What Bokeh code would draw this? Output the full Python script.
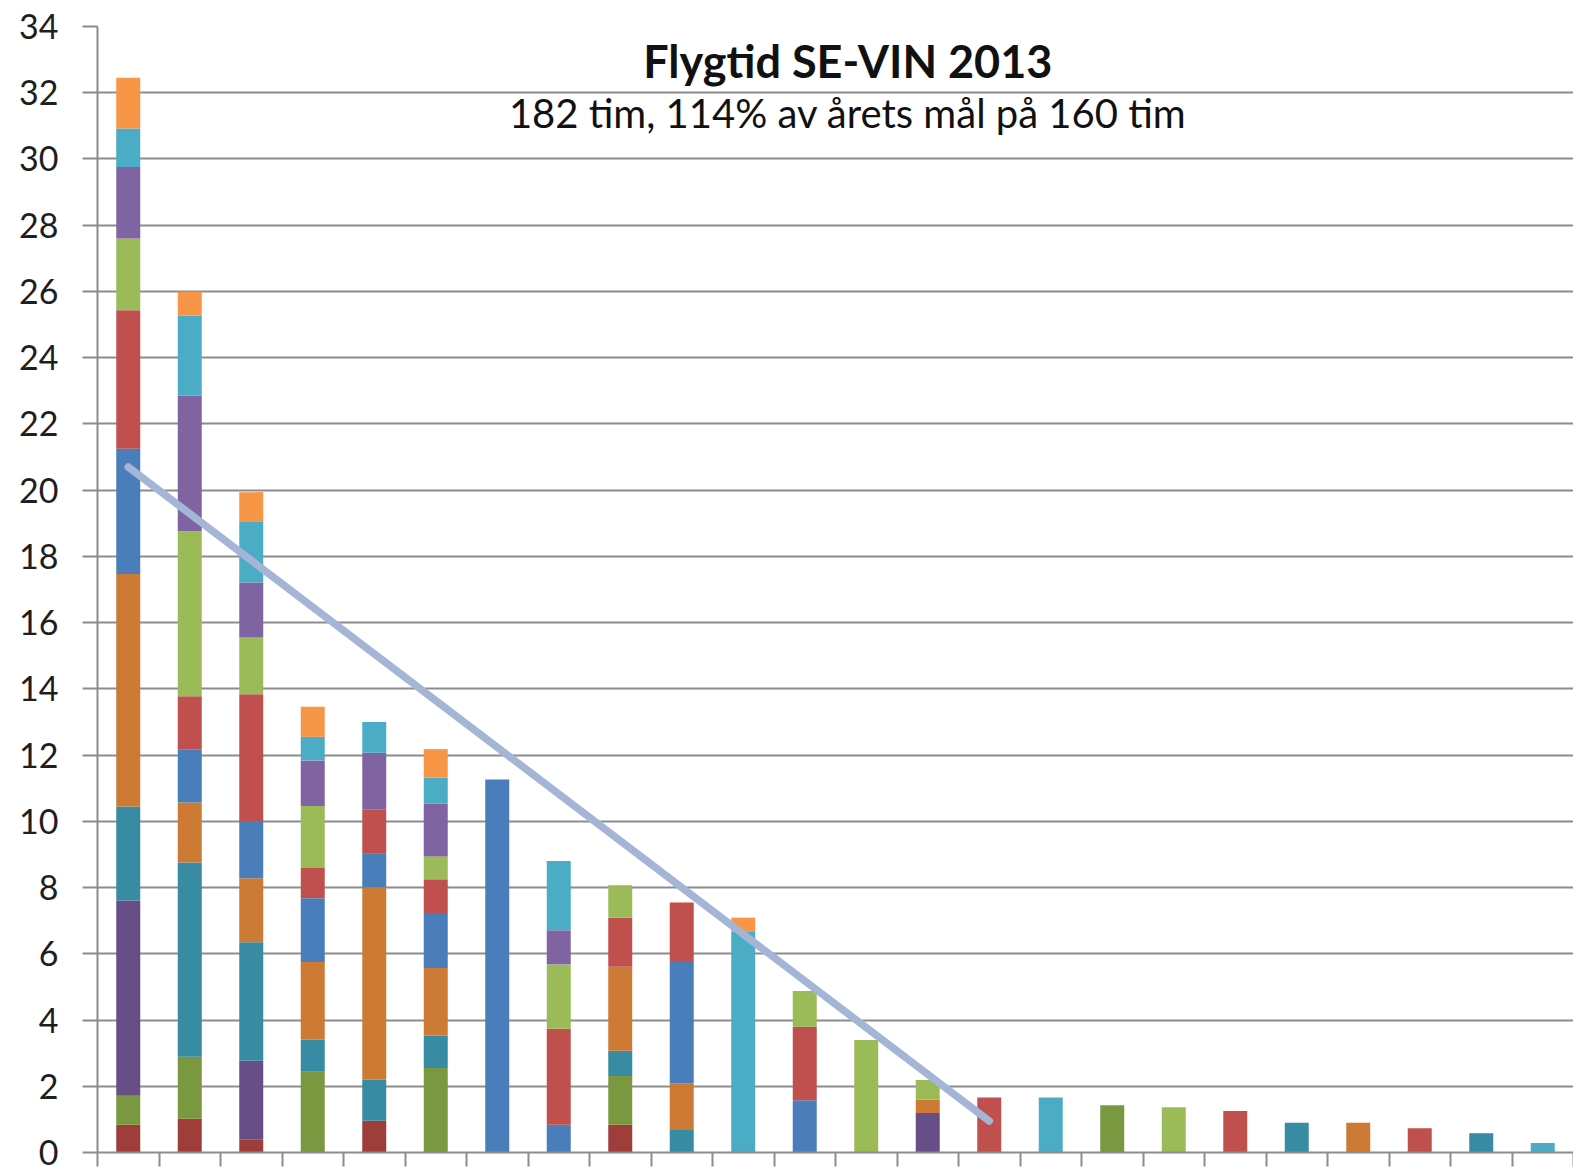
from bokeh.plotting import figure
from bokeh.models import Range1d, FixedTicker, Label, ColumnDataSource
from bokeh.embed import file_html
from bokeh.resources import INLINE

title_text = "Flygtid SE-VIN 2013"
subtitle_text = "182 tim, 114% av årets mål på 160 tim"
y_ticks = list(range(0, 36, 2))
n_bars = 24

# stacked series (hours per bar), bottom to top
s_darkred    = [0.84, 1.02, 0.40, 0, 0.96, 0, 0, 0, 0.84, 0, 0, 0, 0, 0, 0, 0, 0, 0, 0, 0, 0, 0, 0, 0]
s_olive      = [0.87, 1.87, 0, 2.44, 0, 2.55, 0, 0, 1.47, 0, 0, 0, 0, 0, 0, 0, 1.43, 0, 0, 0, 0, 0, 0, 0]
s_darkpurple = [5.90, 0, 2.37, 0, 0, 0, 0, 0, 0, 0, 0, 0, 0, 1.19, 0, 0, 0, 0, 0, 0, 0, 0, 0, 0]
s_teal       = [2.84, 5.87, 3.58, 0.97, 1.24, 0.98, 0, 0, 0.76, 0.68, 0, 0, 0, 0, 0, 0, 0, 0, 0, 0.90, 0, 0, 0.58, 0]
s_darkorange = [7.02, 1.81, 1.93, 2.34, 5.81, 2.04, 0, 0, 2.54, 1.41, 0, 0, 0, 0.40, 0, 0, 0, 0, 0, 0, 0.90, 0, 0, 0]
s_blue       = [3.78, 1.61, 1.71, 1.93, 1.03, 1.66, 11.26, 0.84, 0, 3.69, 0, 1.58, 0, 0, 0, 0, 0, 0, 0, 0, 0, 0, 0, 0]
s_red        = [4.18, 1.60, 3.85, 0.91, 1.31, 1.02, 0, 2.90, 1.48, 1.77, 0, 2.22, 0, 0, 1.66, 0, 0, 0, 1.25, 0, 0, 0.73, 0, 0]
s_green      = [2.17, 4.98, 1.71, 1.87, 0, 0.69, 0, 1.94, 0.98, 0, 0, 1.08, 3.40, 0.60, 0, 0, 0, 1.37, 0, 0, 0, 0, 0, 0]
s_purple     = [2.16, 4.10, 1.66, 1.38, 1.72, 1.59, 0, 1.03, 0, 0, 0, 0, 0, 0, 0, 0, 0, 0, 0, 0, 0, 0, 0, 0]
s_cyan       = [1.16, 2.41, 1.83, 0.71, 0.93, 0.79, 0, 2.09, 0, 0, 6.66, 0, 0, 0, 0, 1.66, 0, 0, 0, 0, 0, 0, 0, 0.29]
s_orange     = [1.53, 0.72, 0.90, 0.91, 0, 0.86, 0, 0, 0, 0, 0.43, 0, 0, 0, 0, 0, 0, 0, 0, 0, 0, 0, 0, 0]

series_names = ["darkred", "olive", "darkpurple", "teal", "darkorange", "blue",
                "red", "green", "purple", "cyan", "orange"]
series_values = [s_darkred, s_olive, s_darkpurple, s_teal, s_darkorange, s_blue,
                 s_red, s_green, s_purple, s_cyan, s_orange]
series_colors = ["#9E3D3A", "#7A983F", "#674E87", "#378BA2", "#CD7A35", "#4A7EBB",
                 "#C0504D", "#9BBB59", "#8064A2", "#4BACC6", "#F79646"]

# linear trend (bar number, hours)
trend_bar = [1, 15]
trend_val = [20.7, 0.95]

data = {"x": [i + 0.5 for i in range(n_bars)]}
for name, vals in zip(series_names, series_values):
    data[name] = vals
source = ColumnDataSource(data)

p = figure(width=1573, height=1168, output_backend="svg", toolbar_location=None,
           x_range=Range1d(0, n_bars), y_range=Range1d(0, 34),
           min_border_left=97, min_border_right=0, min_border_top=26, min_border_bottom=16)
p.outline_line_color = None
p.background_fill_color = "white"
p.border_fill_color = "white"

p.vbar_stack(series_names, x="x", width=0.39, color=series_colors,
             line_color=None, source=source)

p.line([b - 0.5 for b in trend_bar], trend_val, line_width=7.5,
       line_color="#A5B5D6", line_cap="round")

# grid
p.xgrid.grid_line_color = None
p.ygrid.ticker = FixedTicker(ticks=y_ticks)
p.ygrid.grid_line_color = "#8C8C8C"
p.ygrid.grid_line_width = 2

# y axis
p.yaxis.ticker = FixedTicker(ticks=y_ticks)
p.yaxis.axis_line_color = "#8C8C8C"
p.yaxis.axis_line_width = 2
p.yaxis.major_tick_line_color = "#8C8C8C"
p.yaxis.major_tick_line_width = 2
p.yaxis.major_tick_out = 15
p.yaxis.major_tick_in = 0
p.yaxis.minor_tick_line_color = None
p.yaxis.major_label_text_font = "Lato"
p.yaxis.major_label_text_font_size = "34px"
p.yaxis.major_label_text_color = "#1E1E1E"
p.yaxis.major_label_standoff = 24

# x axis: ticks at category boundaries, no labels
x_bounds = list(range(0, n_bars + 1))
p.xaxis.ticker = FixedTicker(ticks=x_bounds)
p.xaxis.major_label_overrides = {b: "" for b in x_bounds}
p.xaxis.axis_line_color = "#8C8C8C"
p.xaxis.axis_line_width = 2
p.xaxis.major_tick_line_color = "#8C8C8C"
p.xaxis.major_tick_line_width = 2
p.xaxis.major_tick_out = 14
p.xaxis.major_tick_in = 0
p.xaxis.minor_tick_line_color = None
p.xaxis.major_label_standoff = 0

p.add_layout(Label(x=12.2, y=32.97, text=title_text, text_align="center",
                   text_baseline="middle", text_font="Lato", text_font_style="bold",
                   text_font_size="45px", text_color="#111111"))
p.add_layout(Label(x=12.2, y=31.4, text=subtitle_text, text_align="center",
                   text_baseline="middle", text_font="Lato",
                   text_font_size="40px", text_color="#111111"))

open("out.html", "w").write(file_html(p, INLINE))
